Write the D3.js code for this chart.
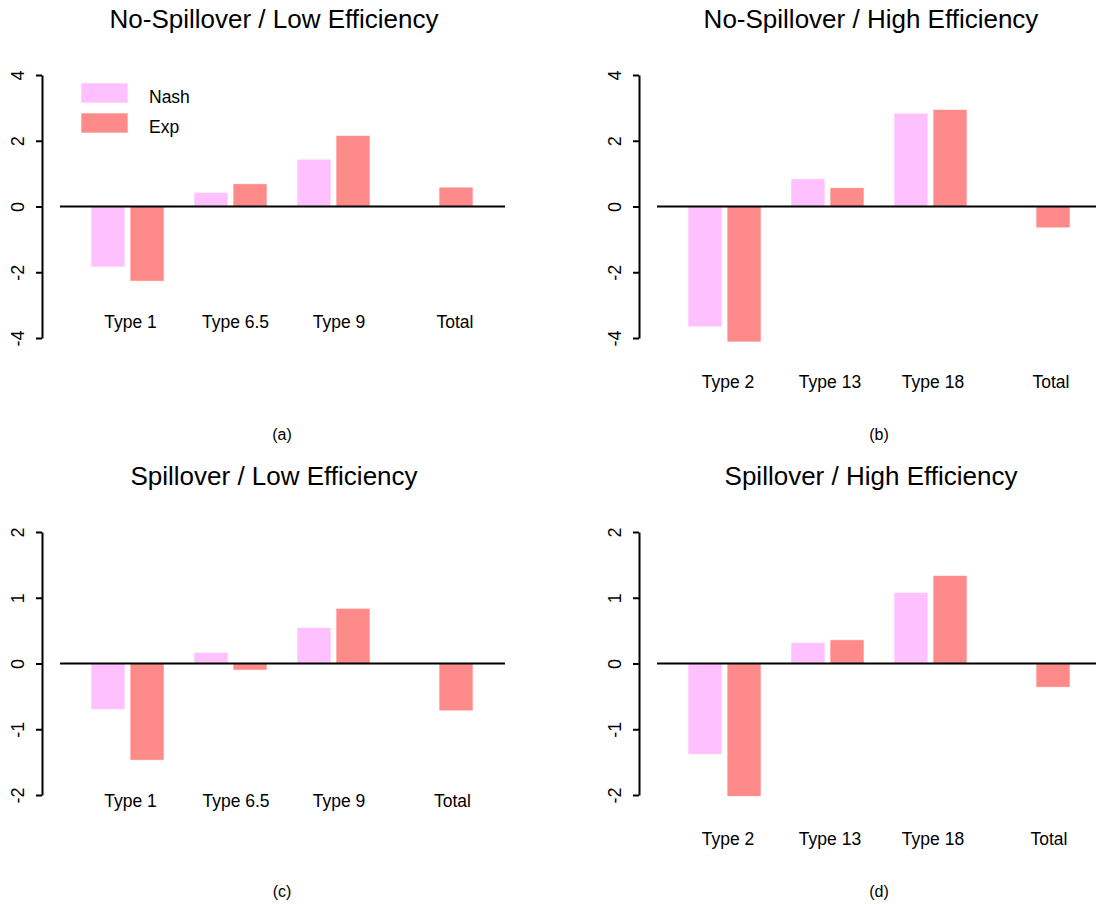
<!DOCTYPE html>
<html>
<head>
<meta charset="utf-8">
<script src="https://cdn.jsdelivr.net/npm/d3@7"></script>
<style>
  html, body { margin: 0; padding: 0; background: #fff; }
  svg { display: block; font-family: "Liberation Sans", Arial, Helvetica, sans-serif; }
</style>
</head>
<body>
<svg id="chart" width="1096" height="904"></svg>
<script>
// Category labels for the two efficiency settings
const categoriesLow = ["Type 1", "Type 6.5", "Type 9", "Total"];
const categoriesHigh = ["Type 2", "Type 13", "Type 18", "Total"];
const seriesNames = ["Nash", "Exp"];

// Values per panel (Nash prediction vs. experimental result)
const nashA = [-1.84, 0.43, 1.44, 0];
const expA  = [-2.27, 0.69, 2.16, 0.59];
const nashB = [-3.66, 0.84, 2.84, 0];
const expB  = [-4.12, 0.57, 2.95, -0.65];
const nashC = [-0.70, 0.17, 0.55, 0];
const expC  = [-1.47, -0.10, 0.84, -0.72];
const nashD = [-1.38, 0.32, 1.08, 0];
const expD  = [-2.02, 0.36, 1.34, -0.36];

// Axis ticks
const ticksTop = [-4, -2, 0, 2, 4];
const ticksBottom = [-2, -1, 0, 1, 2];

const titles = [
  "No-Spillover / Low Efficiency",
  "No-Spillover / High Efficiency",
  "Spillover / Low Efficiency",
  "Spillover / High Efficiency"
];
const subLabels = ["(a)", "(b)", "(c)", "(d)"];

const colors = { Nash: "#FFC0FF", Exp: "#FF8A8A" };

// Layout of each panel: offsets, baseline of the category row, label nudges
const panels = [
  { cats: categoriesLow,  nash: nashA, exp: expA, ticks: ticksTop,    ox: 0,   oy: 0,   labelY: 328, nudge: [3, 5, 5.5, 18.5], legend: true },
  { cats: categoriesHigh, nash: nashB, exp: expB, ticks: ticksTop,    ox: 597, oy: 0,   labelY: 388, nudge: [3.5, 2.5, 2.5, 17.5], legend: false },
  { cats: categoriesLow,  nash: nashC, exp: expC, ticks: ticksBottom, ox: 0,   oy: 457, labelY: 350, nudge: [3, 5.5, 5.5, 16], legend: false },
  { cats: categoriesHigh, nash: nashD, exp: expD, ticks: ticksBottom, ox: 597, oy: 457, labelY: 388, nudge: [3.5, 2.5, 2.5, 15.5], legend: false }
];

const svg = d3.select("#chart");
svg.append("rect").attr("width", 1096).attr("height", 904).attr("fill", "#fff");

panels.forEach((p, i) => {
  const g = svg.append("g").attr("transform", `translate(${p.ox},${p.oy})`);

  const x = d3.scaleBand()
    .domain(p.cats)
    .range([91, 473])
    .paddingInner(0.291)
    .paddingOuter(0);
  const xInner = d3.scaleBand()
    .domain(seriesNames)
    .range([0, x.bandwidth()])
    .paddingInner(0.13)
    .paddingOuter(0);

  const yMax = d3.max(p.ticks);
  const y = d3.scaleLinear().domain([-yMax, yMax]).range([338, 75]);

  const rows = p.cats.map((c, k) => ({ cat: c, Nash: p.nash[k], Exp: p.exp[k] }));

  // bars
  const grp = g.selectAll("g.grp").data(rows).join("g")
    .attr("class", "grp")
    .attr("transform", d => `translate(${x(d.cat)},0)`);
  grp.selectAll("rect").data(d => seriesNames.map(s => ({ s, v: d[s] }))).join("rect")
    .attr("x", d => xInner(d.s))
    .attr("width", xInner.bandwidth())
    .attr("y", d => y(Math.max(0, d.v)))
    .attr("height", d => Math.abs(y(d.v) - y(0)))
    .attr("fill", d => colors[d.s])
    .attr("stroke", "#fff")
    .attr("stroke-width", 0.6);

  // zero reference line
  g.append("line")
    .attr("x1", 60).attr("x2", 505)
    .attr("y1", y(0)).attr("y2", y(0))
    .attr("stroke", "#000").attr("stroke-width", 2);

  // y axis
  const axis = g.append("g")
    .attr("transform", "translate(42,0)")
    .call(d3.axisLeft(y).tickValues(p.ticks).tickSize(6).tickSizeOuter(0).tickFormat(d => String(d)));
  axis.select(".domain").attr("stroke-width", 2);
  axis.selectAll(".tick line").attr("stroke-width", 2);
  axis.selectAll(".tick text")
    .attr("x", null).attr("dy", null)
    .attr("transform", "translate(-18,0) rotate(-90)")
    .attr("text-anchor", "middle")
    .attr("font-size", 18)
    .attr("font-family", "Liberation Sans, Arial, sans-serif")
    .attr("fill", "#000");

  // category labels
  g.selectAll("text.cat").data(p.cats).join("text")
    .attr("class", "cat")
    .attr("x", (d, k) => x(d) + x.bandwidth() / 2 + p.nudge[k])
    .attr("y", p.labelY)
    .attr("text-anchor", "middle")
    .attr("font-size", 17.5)
    .text(d => d);

  // title
  g.append("text")
    .attr("x", 274).attr("y", 27.5)
    .attr("text-anchor", "middle")
    .attr("font-size", 26)
    .text(titles[i]);

  // panel letter
  g.append("text")
    .attr("x", 282).attr("y", 439.5)
    .attr("text-anchor", "middle")
    .attr("font-size", 16)
    .text(subLabels[i]);

  if (p.legend) {
    const lg = g.append("g");
    seriesNames.forEach((s, k) => {
      lg.append("rect")
        .attr("x", 81).attr("y", 83 + k * 30)
        .attr("width", 47).attr("height", 20)
        .attr("fill", colors[s])
        .attr("stroke", "#fff").attr("stroke-width", 0.6);
      lg.append("text")
        .attr("x", 149).attr("y", 102.5 + k * 30)
        .attr("font-size", 17.5)
        .text(s);
    });
  }
});
</script>
</body>
</html>
